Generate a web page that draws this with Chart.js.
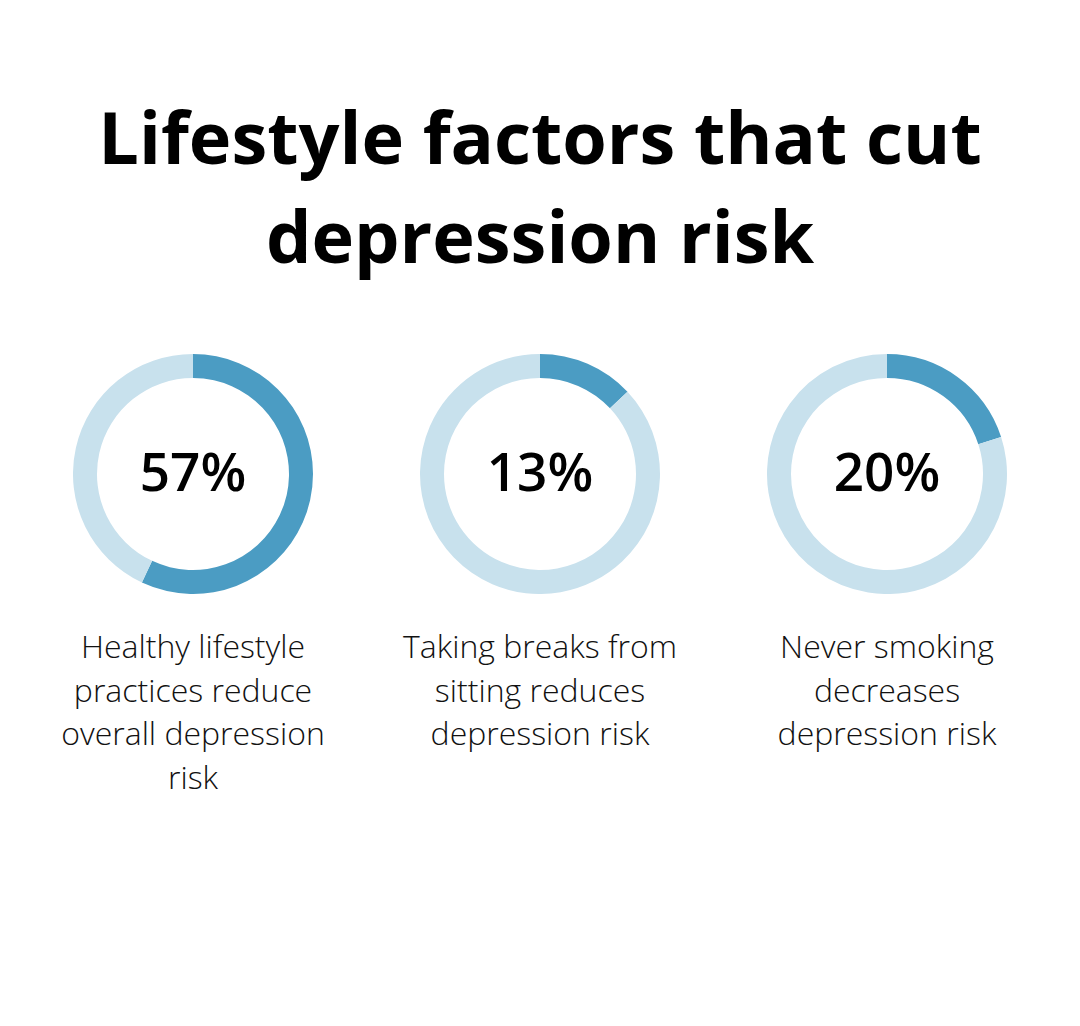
<!DOCTYPE html>
<html>
<head>
<meta charset="utf-8">
<script src="https://cdn.jsdelivr.net/npm/chart.js@4.4.1/dist/chart.umd.min.js"></script>
<style>
    html, body { margin: 0; padding: 0; background: #fff; }
    body { width: 1080px; height: 1026px; position: relative; font-family: 'Open Sans', sans-serif; color: #000; overflow: hidden; }
    .title { position: absolute; top: 87px; left: 0; width: 1080px; text-align: center; font-weight: 700; font-size: 72px; line-height: 99px; margin: 0; }
    .chart-box { position: absolute; top: 354px; width: 240px; height: 240px; }
    .label { position: absolute; top: 624px; width: 300px; text-align: center; font-weight: 300; font-size: 32px; line-height: 43.5px; color: #111; }
</style>
</head>
<body>
<h1 class="title">Lifestyle factors that cut<br>depression risk</h1>

<div class="chart-box" style="left: 73px"><canvas id="chart0"></canvas></div>
<div class="chart-box" style="left: 420px"><canvas id="chart1"></canvas></div>
<div class="chart-box" style="left: 767px"><canvas id="chart2"></canvas></div>

<div class="label" id="label0" style="left: 43px"></div>
<div class="label" id="label1" style="left: 390px"></div>
<div class="label" id="label2" style="left: 737px"></div>

<script>
// data
const categories = [
    'Healthy lifestyle practices reduce overall depression risk',
    'Taking breaks from sitting reduces depression risk',
    'Never smoking decreases depression risk'
]
const percents = [57, 13, 20]

const darkBlue = '#4b9cc3'
const lightBlue = '#c8e1ed'

// draws the number in the middle of the ring
const centerText = {
    id: 'centerText',
    afterDraw(chart) {
        const ctx = chart.ctx
        const meta = chart.getDatasetMeta(0)
        const x = meta.data[0].x
        const y = meta.data[0].y
        ctx.save()
        ctx.font = '600 53px "Open Sans"'
        ctx.fillStyle = '#000'
        ctx.textAlign = 'center'
        ctx.textBaseline = 'alphabetic'
        ctx.fillText(chart.data.datasets[0].data[0] + '%', x, y + 17)
        ctx.restore()
    }
}

for( let i = 0; i < percents.length; i++ ) {
    document.getElementById('label' + i).textContent = categories[i]

    new Chart(document.getElementById('chart' + i).getContext('2d'), {
        type: 'doughnut',
        data: {
            labels: ['value', 'rest'],
            datasets: [{
                data: [percents[i], 100 - percents[i]],
                backgroundColor: [darkBlue, lightBlue],
                borderWidth: 0
            }]
        },
        options: {
            responsive: true,
            maintainAspectRatio: false,
            animation: false,
            cutout: '80%',
            layout: { padding: 0 },
            plugins: {
                legend: { display: false },
                tooltip: { enabled: false }
            }
        },
        plugins: [centerText]
    })
}
</script>
</body>
</html>
